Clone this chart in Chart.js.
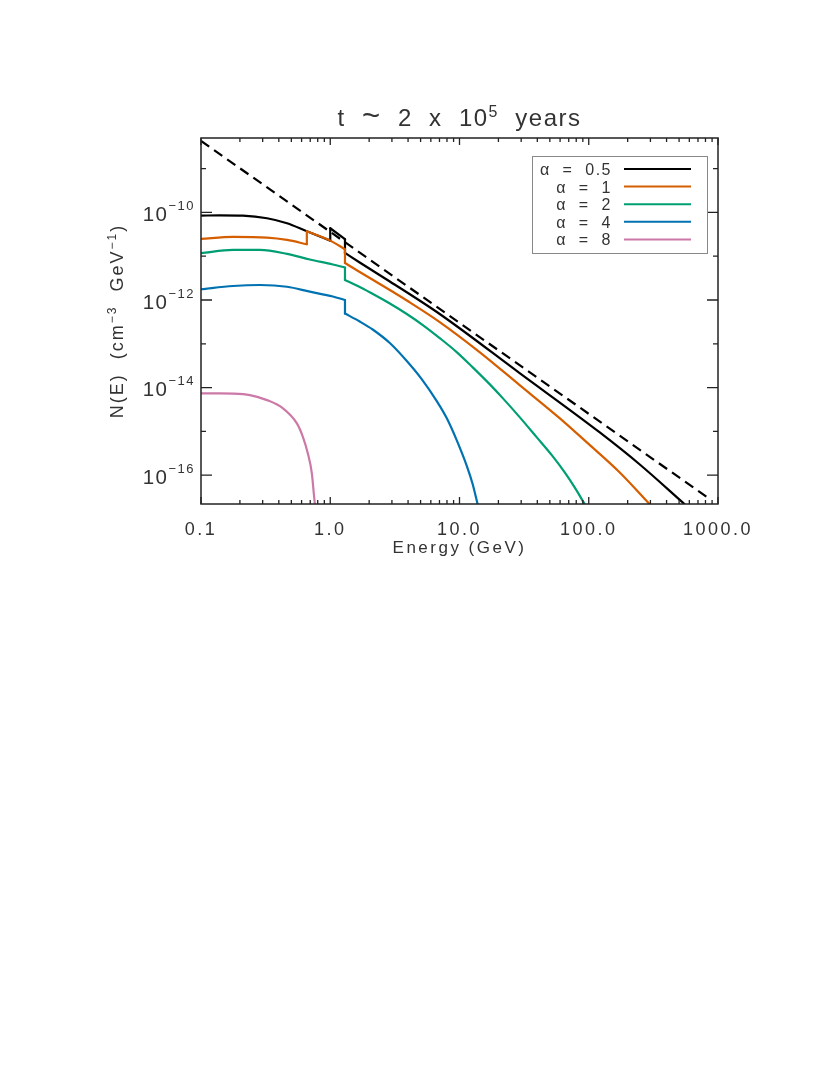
<!DOCTYPE html>
<html>
<head>
<meta charset="utf-8">
<script src="https://cdn.jsdelivr.net/npm/chart.js@4.4.1/dist/chart.umd.min.js"></script>
<style>
  html, body { margin: 0; padding: 0; background: #fff; }
  canvas { display: block; }
</style>
</head>
<body>
<canvas id="spectrumChart" width="830" height="1075"></canvas>
<script>
// energies in GeV, N(E) in cm^-3 GeV^-1
// a repeated energy is a vertical step in the curve
const energyA05 = [0.1, 0.14, 0.211, 0.324, 0.463, 0.659, 1.0, 1.0, 1.3, 1.3, 1.69, 2.89, 7.03, 29.2, 121, 247, 550];
const fluxA05 = [8.45e-11, 8.6e-11, 8.45e-11, 7.36e-11, 5.66e-11, 3.7e-11, 2.27e-11, 4.35e-11, 2.44e-11, 1.19e-11, 7.2e-12, 2.65e-12, 4.79e-13, 2.14e-14, 9.6e-16, 1.78e-16, 2.2e-17];

const energyA1 = [0.1, 0.177, 0.324, 0.463, 0.659, 0.659, 1.0, 1.3, 1.3, 1.69, 2.89, 3.91, 7.03, 14.3, 29.2, 59.5, 96.2, 173, 295];
const fluxA1 = [2.48e-11, 2.75e-11, 2.65e-11, 2.35e-11, 1.88e-11, 3.7e-11, 2.27e-11, 1.44e-11, 7.0e-12, 4.37e-12, 1.69e-12, 9.75e-13, 3.14e-13, 6.48e-14, 1.14e-14, 2.01e-15, 5.68e-16, 1.17e-16, 2.2e-17];

const energyA2 = [0.1, 0.177, 0.286, 0.463, 0.695, 1.047, 1.3, 1.3, 1.69, 2.21, 2.89, 3.91, 5.2, 7.03, 9.51, 12.6, 17.1, 21.6, 29.2, 39.5, 52.5, 65.0, 77.6, 92.9];
const fluxA2 = [1.17e-11, 1.39e-11, 1.39e-11, 1.13e-11, 8.43e-12, 6.48e-12, 5.53e-12, 2.86e-12, 1.98e-12, 1.3e-12, 8.32e-13, 4.79e-13, 2.68e-13, 1.35e-13, 6.48e-14, 2.94e-14, 1.2e-14, 5.75e-15, 2.12e-15, 7.39e-16, 2.72e-16, 1.17e-16, 5.32e-17, 2.2e-17];

const energyA4 = [0.1, 0.177, 0.286, 0.463, 0.695, 1.047, 1.3, 1.3, 1.69, 2.13, 2.89, 3.91, 5.1, 6.67, 7.96, 9.51, 11.4, 12.65, 13.8];
const fluxA4 = [1.76e-12, 2.09e-12, 2.2e-12, 2.01e-12, 1.55e-12, 1.2e-12, 1.0e-12, 4.91e-13, 3.23e-13, 2.12e-13, 1.04e-13, 4.04e-14, 1.56e-14, 4.91e-15, 2.01e-15, 6.3e-16, 1.61e-16, 6.22e-17, 2.2e-17];

const energyA8 = [0.1, 0.14, 0.177, 0.239, 0.324, 0.431, 0.552, 0.614, 0.671, 0.721, 0.746, 0.76];
const fluxA8 = [7.37e-15, 7.37e-15, 7.3e-15, 6.74e-15, 5.18e-15, 3.35e-15, 1.52e-15, 7.5e-16, 3.13e-16, 1.09e-16, 3.82e-17, 2.2e-17];

const energyPowerLaw = [0.1, 830];
const fluxPowerLaw = [4.3e-9, 3.1e-17];

const seriesLabels = ['α  =  0.5', 'α  =  1', 'α  =  2', 'α  =  4', 'α  =  8'];
const seriesColors = ['#000000', '#d55e00', '#009e73', '#0072b2', '#cc79a7'];

const xMajorTicks = [0.1, 1, 10, 100, 1000];
const xTickLabels = ['0.1', '1.0', '10.0', '100.0', '1000.0'];
const yMajorExponents = [-16, -14, -12, -10];
const yMinorExponents = [-15, -13, -11, -9];

const FONT = '"Liberation Sans", Arial, sans-serif';
const INK = '#333';

function toPoints(xs, ys) {
  return xs.map((x, i) => ({ x, y: ys[i] }));
}

// cut a curve at its vertical steps so each smooth run gets its own spline
function splitAtSteps(points) {
  const pieces = [];
  let current = [points[0]];
  for (let i = 1; i < points.length; i++) {
    if (points[i].x === points[i - 1].x) {
      pieces.push(current);
      pieces.push([points[i - 1], points[i]]);
      current = [points[i]];
    } else {
      current.push(points[i]);
    }
  }
  pieces.push(current);
  return pieces.filter((p) => p.length > 1);
}

// draws a row of text pieces (some raised as superscripts)
function drawPieces(ctx, pieces, x, y, align, spacing) {
  ctx.letterSpacing = spacing + 'px';
  let total = 0;
  pieces.forEach((p) => {
    ctx.font = `${p.size}px ${FONT}`;
    p.w = ctx.measureText(p.text).width;
    total += p.w;
  });
  let cx = align === 'center' ? x - total / 2 : align === 'right' ? x - total : x;
  pieces.forEach((p) => {
    ctx.font = `${p.size}px ${FONT}`;
    ctx.fillText(p.text, cx, y - (p.rise || 0));
    cx += p.w;
  });
}

const axesAndLegend = {
  id: 'axesAndLegend',
  afterDatasetsDraw(chart) {
    const { ctx, chartArea: a, scales } = chart;
    const xs = scales.x;
    const ys = scales.y;
    ctx.save();
    ctx.strokeStyle = '#222';
    ctx.lineWidth = 1.5;
    ctx.strokeRect(a.left, a.top, a.right - a.left, a.bottom - a.top);

    // inward ticks on all four sides
    ctx.lineWidth = 1.3;
    ctx.beginPath();
    xMajorTicks.forEach((v, i) => {
      const px = xs.getPixelForValue(v);
      ctx.moveTo(px, a.bottom); ctx.lineTo(px, a.bottom - 7);
      ctx.moveTo(px, a.top); ctx.lineTo(px, a.top + 7);
      if (i < xMajorTicks.length - 1) {
        for (let m = 2; m <= 9; m++) {
          const mx = xs.getPixelForValue(v * m);
          ctx.moveTo(mx, a.bottom); ctx.lineTo(mx, a.bottom - 4);
          ctx.moveTo(mx, a.top); ctx.lineTo(mx, a.top + 4);
        }
      }
    });
    yMajorExponents.forEach((e) => {
      const py = ys.getPixelForValue(Math.pow(10, e));
      ctx.moveTo(a.left, py); ctx.lineTo(a.left + 11, py);
      ctx.moveTo(a.right, py); ctx.lineTo(a.right - 11, py);
    });
    yMinorExponents.forEach((e) => {
      const py = ys.getPixelForValue(Math.pow(10, e));
      ctx.moveTo(a.left, py); ctx.lineTo(a.left + 5, py);
      ctx.moveTo(a.right, py); ctx.lineTo(a.right - 5, py);
    });
    ctx.stroke();

    ctx.fillStyle = INK;
    ctx.textBaseline = 'alphabetic';
    ctx.textAlign = 'left';

    xMajorTicks.forEach((v, i) => {
      drawPieces(ctx, [{ text: xTickLabels[i], size: 18 }], xs.getPixelForValue(v), a.bottom + 31, 'center', 2.5);
    });
    yMajorExponents.forEach((e) => {
      const py = ys.getPixelForValue(Math.pow(10, e));
      drawPieces(ctx, [
        { text: '10', size: 20.5 },
        { text: '−' + Math.abs(e), size: 13, rise: 11 },
      ], a.left - 6, py + 8.5, 'right', 1.5);
    });

    // axis titles and main title
    drawPieces(ctx, [{ text: 'Energy (GeV)', size: 17 }], (a.left + a.right) / 2, a.bottom + 49, 'center', 2.5);
    drawPieces(ctx, [
      { text: 't  ', size: 24 },
      { text: '~', size: 31 },
      { text: '  2  x  10', size: 24 },
      { text: '5', size: 16, rise: 9 },
      { text: '  years', size: 24 },
    ], (a.left + a.right) / 2, a.top - 12, 'center', 1.5);

    ctx.save();
    ctx.translate(a.left - 78, (a.top + a.bottom) / 2);
    ctx.rotate(-Math.PI / 2);
    drawPieces(ctx, [
      { text: 'N(E)  (cm', size: 18 },
      { text: '−3', size: 12, rise: 7 },
      { text: '  GeV', size: 18 },
      { text: '−1', size: 12, rise: 7 },
      { text: ')', size: 18 },
    ], 0, 0, 'center', 2);
    ctx.restore();

    // legend box, labels on the left, line samples on the right
    const boxL = 532, boxT = 156, boxW = 175, boxH = 97;
    ctx.strokeStyle = '#888';
    ctx.lineWidth = 1;
    ctx.strokeRect(boxL + 0.5, boxT + 0.5, boxW, boxH);
    const curves = chart.data.datasets.filter((d) => d.label);
    curves.forEach((d, i) => {
      const rowY = boxT + 13 + i * 17.6;
      ctx.fillStyle = INK;
      drawPieces(ctx, [{ text: d.label, size: 16 }], boxL + 80, rowY + 6, 'right', 1.5);
      ctx.strokeStyle = d.borderColor;
      ctx.lineWidth = 2;
      ctx.beginPath();
      ctx.moveTo(boxL + 92, rowY);
      ctx.lineTo(boxL + 159, rowY);
      ctx.stroke();
    });
    ctx.restore();
  },
};

const curveSets = [
  [energyA05, fluxA05],
  [energyA1, fluxA1],
  [energyA2, fluxA2],
  [energyA4, fluxA4],
  [energyA8, fluxA8],
];

const datasets = [];
curveSets.forEach(([xs, ys], i) => {
  splitAtSteps(toPoints(xs, ys)).forEach((piece, k) => {
    datasets.push({
      label: k === 0 ? seriesLabels[i] : '',
      data: piece,
      borderColor: seriesColors[i],
      borderWidth: 2.2,
      borderCapStyle: 'round',
      borderJoinStyle: 'round',
      pointRadius: 0,
      cubicInterpolationMode: 'monotone',
      order: 6 - i,
    });
  });
});
datasets.push({
  label: '',
  data: toPoints(energyPowerLaw, fluxPowerLaw),
  borderColor: '#000000',
  borderWidth: 2.2,
  borderDash: [10, 6],
  pointRadius: 0,
  order: 7,
});

new Chart(document.getElementById('spectrumChart'), {
  type: 'line',
  data: { datasets },
  options: {
    responsive: false,
    animation: false,
    layout: { padding: { left: 201, top: 138, right: 112, bottom: 571 } },
    scales: {
      x: { type: 'logarithmic', min: 0.1, max: 1000, display: false },
      y: { type: 'logarithmic', min: 2.2e-17, max: 5e-9, display: false },
    },
    plugins: {
      legend: { display: false },
      tooltip: { enabled: false },
    },
  },
  plugins: [axesAndLegend],
});
</script>
</body>
</html>
